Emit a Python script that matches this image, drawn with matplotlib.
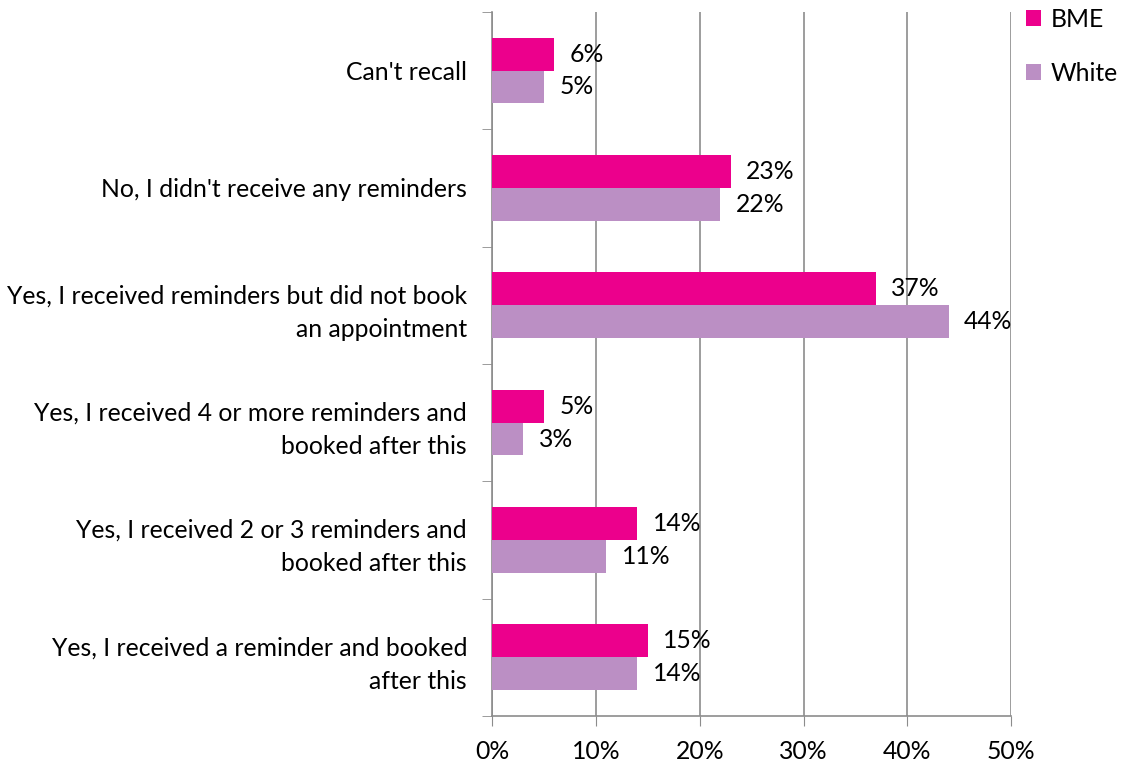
import numpy as np
import matplotlib.pyplot as plt

# categories, top to bottom as shown
categories = [
    "Can't recall",
    "No, I didn't receive any reminders",
    "Yes, I received reminders but did not book\nan appointment",
    "Yes, I received 4 or more reminders and\nbooked after this",
    "Yes, I received 2 or 3 reminders and\nbooked after this",
    "Yes, I received a reminder and booked\nafter this",
]
bme = [6, 23, 37, 5, 14, 15]
white = [5, 22, 44, 3, 11, 14]
xticks = [0, 10, 20, 30, 40, 50]

bme_color = '#EC008C'
white_color = '#BB8FC4'
grid_color = '#8C8C8C'

plt.rcParams['font.family'] = ['Lato', 'DejaVu Sans']
fs = 17.8

fig = plt.figure(figsize=(11.26, 7.62), dpi=100)
ax = fig.add_axes([0.437, 0.0604, 0.461, 0.924])

y = np.arange(len(categories))
h = 0.28
bars_b = ax.barh(y - h / 2, bme, height=h, color=bme_color, label='BME', zorder=3)
bars_w = ax.barh(y + h / 2, white, height=h, color=white_color, label='White', zorder=3)

# data labels
for bars, vals in [(bars_b, bme), (bars_w, white)]:
    for b, v in zip(bars, vals):
        ax.annotate(f"{v}%", (b.get_width(), b.get_y() + b.get_height() / 2),
                    xytext=(11, 0), textcoords='offset points',
                    va='center', ha='left', fontsize=fs, color='black')

ax.set_xlim(0, 50)
ax.set_ylim(len(categories) - 0.5, -0.5)
ax.set_xticks(xticks)
ax.set_xticklabels([f"{t}%" for t in xticks], fontsize=fs)

ax.set_yticks(y)
ax.set_yticklabels(categories, fontsize=fs, ha='right', linespacing=1.55)
ax.tick_params(axis='y', length=0, pad=18)
# tick marks at category boundaries
ax.set_yticks(np.arange(-0.5, len(categories)), minor=True)
ax.tick_params(axis='y', which='minor', length=7, color=grid_color, direction='out')
ax.tick_params(axis='x', length=7, color=grid_color, direction='out', pad=10)

ax.xaxis.grid(True, color=grid_color, linewidth=1.2, zorder=0)
for s in ['top', 'right']:
    ax.spines[s].set_visible(False)
for s in ['left', 'bottom']:
    ax.spines[s].set_color(grid_color)
    ax.spines[s].set_linewidth(1.2)

ax.legend(loc='upper left', bbox_to_anchor=(1.01, 1.02), frameon=False,
          fontsize=fs, handlelength=0.6, handleheight=0.6,
          labelspacing=1.25, handletextpad=0.4, borderaxespad=0.0)

fig.savefig('out.png', dpi=100)
